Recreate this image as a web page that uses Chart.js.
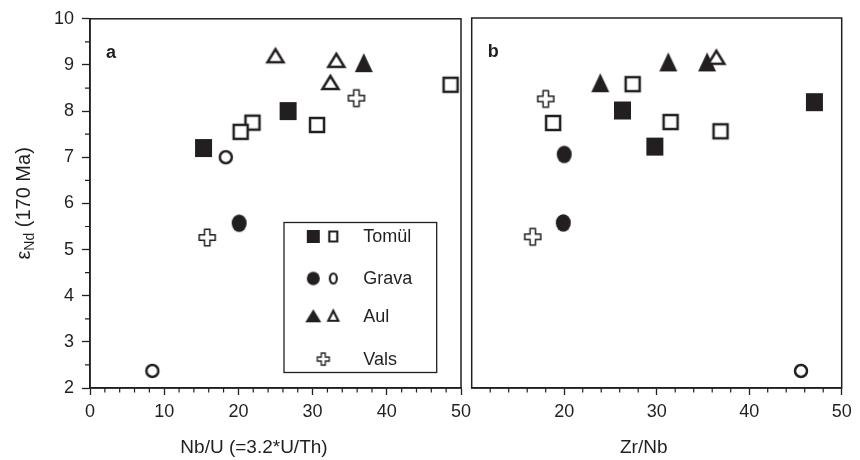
<!DOCTYPE html>
<html>
<head>
<meta charset="utf-8">
<script src="https://cdn.jsdelivr.net/npm/chart.js@4.4.1/dist/chart.umd.min.js"></script>
<style>
    html, body { margin: 0; padding: 0; background: #fff; }
    #wrap { position: relative; width: 860px; height: 460px; overflow: hidden; }
    #chartA { position: absolute; left: 0; top: 0; }
    #chartB { position: absolute; left: 456px; top: 0; }
</style>
</head>
<body>
<div id="wrap">
    <canvas id="chartA" width="480" height="460"></canvas>
    <canvas id="chartB" width="404" height="460"></canvas>
</div>
<script>
const FONT = '"Liberation Sans", Arial, Helvetica, sans-serif';
const INK = '#231f20';

// rock groups (legend order)
const groups = ['Tomül', 'Grava', 'Aul', 'Vals'];

// panel a: Nb/U vs eNd (170 Ma), [x, y]
const nbuTomulFilled = [[15.3, 7.2], [26.7, 8.0]];
const nbuTomulOpen = [[21.9, 7.75], [20.3, 7.55], [30.6, 7.7], [48.6, 8.57]];
const nbuGravaFilled = [[20.1, 5.57]];
const nbuGravaOpen = [[18.3, 7.0], [8.4, 2.37]];
const nbuAulFilled = [[36.9, 9.05]];
const nbuAulOpen = [[25.0, 9.2], [33.2, 9.1], [32.4, 8.62]];
const nbuVals = [[15.8, 5.26], [35.9, 8.28]];

// panel b: Zr/Nb vs eNd (170 Ma)
const zrnbTomulFilled = [[26.3, 8.0], [29.8, 7.22], [47.05, 8.18]];
const zrnbTomulOpen = [[18.8, 7.73], [27.4, 8.57], [31.5, 7.75], [36.9, 7.55]];
const zrnbGravaFilled = [[20.0, 7.05], [19.9, 5.57]];
const zrnbGravaOpen = [[45.6, 2.37]];
const zrnbAulFilled = [[23.9, 8.6], [31.25, 9.05], [35.45, 9.05]];
const zrnbAulOpen = [[36.45, 9.15]];
const zrnbVals = [[18.0, 8.25], [16.6, 5.27]];

// tick labels
const yTicks = [2, 3, 4, 5, 6, 7, 8, 9, 10];
const nbuTicks = [0, 10, 20, 30, 40, 50];
const zrnbTicks = [20, 30, 40, 50];

// draw one marker on its own small canvas, used as a pointStyle
function marker(shape, filled, w, h, lw) {
    const pad = Math.ceil(lw * 3) + 1;
    const W = Math.ceil(w) + pad * 2, H = Math.ceil(h) + pad * 2;
    const c = document.createElement('canvas');
    c.width = W; c.height = H;
    const g = c.getContext('2d');
    g.translate((W - w) / 2, (H - h) / 2);
    g.beginPath();
    if (shape === 'square') {
        g.rect(0, 0, w, h);
    } else if (shape === 'circle') {
        g.ellipse(w / 2, h / 2, w / 2, h / 2, 0, 0, Math.PI * 2);
    } else if (shape === 'triangle') {
        g.moveTo(w / 2, 0); g.lineTo(w, h); g.lineTo(0, h); g.closePath();
    } else if (shape === 'plus') {
        const a = w / 3, b = h / 3;
        g.moveTo(a, 0); g.lineTo(2 * a, 0); g.lineTo(2 * a, b); g.lineTo(w, b);
        g.lineTo(w, 2 * b); g.lineTo(2 * a, 2 * b); g.lineTo(2 * a, h); g.lineTo(a, h);
        g.lineTo(a, 2 * b); g.lineTo(0, 2 * b); g.lineTo(0, b); g.lineTo(a, b);
        g.closePath();
    }
    g.fillStyle = filled ? INK : '#fff';
    g.fill();
    if (lw > 0) {
        g.lineWidth = lw;
        g.strokeStyle = INK;
        g.stroke();
    }
    return c;
}

const M = {
    sqF: marker('square', true, 17, 18, 0),
    sqO: marker('square', false, 14, 14, 2.5),
    ciF: marker('circle', true, 15, 17.5, 0),
    ciO: marker('circle', false, 12, 12, 2.5),
    trF: marker('triangle', true, 18, 19, 0),
    trO: marker('triangle', false, 16, 13, 2.5),
    plus: marker('plus', false, 16, 16.5, 1.5),
    // smaller ones for the legend box
    lSqF: marker('square', true, 13, 13, 0),
    lSqO: marker('square', false, 8, 10, 2.2),
    lCiF: marker('circle', true, 13, 13.5, 0),
    lCiO: marker('circle', false, 7, 10, 2.2),
    lTrF: marker('triangle', true, 16, 13, 0),
    lTrO: marker('triangle', false, 10, 10, 2.2),
    lPlus: marker('plus', false, 12, 12, 1.3)
};

function pts(arr) {
    return arr.map(p => ({ x: p[0], y: p[1] }));
}

// open symbols get the lower order so they sit on top of the filled ones
function makeSets(tf, to, gf, go, af, ao, v) {
    const base = { showLine: false, pointRadius: 9, pointHoverRadius: 9 };
    return [
        { ...base, label: groups[0], data: pts(tf), pointStyle: M.sqF, order: 2 },
        { ...base, label: groups[0], data: pts(to), pointStyle: M.sqO, order: 1 },
        { ...base, label: groups[1], data: pts(gf), pointStyle: M.ciF, order: 2 },
        { ...base, label: groups[1], data: pts(go), pointStyle: M.ciO, order: 1 },
        { ...base, label: groups[2], data: pts(af), pointStyle: M.trF, order: 2 },
        { ...base, label: groups[2], data: pts(ao), pointStyle: M.trO, order: 1 },
        { ...base, label: groups[3], data: pts(v), pointStyle: M.plus, order: 1 }
    ];
}

// frame, minor ticks, panel letter, x title, y title and legend box
const panelPlugin = {
    id: 'panel',
    afterDraw(chart, args, o) {
        const { ctx, chartArea: a, scales } = chart;
        ctx.save();
        ctx.strokeStyle = INK;
        ctx.lineWidth = 1.5;
        ctx.strokeRect(a.left, a.top, a.right - a.left, a.bottom - a.top);

        // minor ticks
        ctx.lineWidth = 1.2;
        ctx.beginPath();
        for (let v = scales.x.min; v <= scales.x.max; v += 2) {
            if (v % 10 === 0) continue;
            const px = scales.x.getPixelForValue(v);
            ctx.moveTo(px, a.bottom);
            ctx.lineTo(px, a.bottom + 4.5);
        }
        if (o.yAxis) {
            for (let v = scales.y.min; v <= scales.y.max; v += 0.5) {
                if (v % 1 === 0) continue;
                const py = scales.y.getPixelForValue(v);
                ctx.moveTo(a.left, py);
                ctx.lineTo(a.left - 5, py);
            }
        }
        ctx.stroke();

        ctx.fillStyle = INK;
        ctx.textBaseline = 'alphabetic';
        ctx.textAlign = 'left';
        ctx.font = 'bold 18px ' + FONT;
        ctx.fillText(o.letter, a.left + 16, a.top + 39);

        ctx.font = '19px ' + FONT;
        ctx.textAlign = 'center';
        ctx.fillText(o.xTitle, a.left + o.xTitleShift, 453);

        if (o.yAxis) {
            // eNd (170 Ma), with Nd as a subscript
            ctx.save();
            ctx.translate(30, (a.top + a.bottom) / 2);
            ctx.rotate(-Math.PI / 2);
            ctx.textAlign = 'left';
            ctx.font = '20px ' + FONT;
            const e = 'ε', rest = ' (170 Ma)';
            const we = ctx.measureText(e).width, wr = ctx.measureText(rest).width;
            ctx.font = '14px ' + FONT;
            const ws = ctx.measureText('Nd').width;
            let x = -(we + ws + wr) / 2;
            ctx.font = '20px ' + FONT;
            ctx.fillText(e, x, 0);
            x += we;
            ctx.font = '14px ' + FONT;
            ctx.fillText('Nd', x, 4);
            x += ws;
            ctx.font = '20px ' + FONT;
            ctx.fillText(rest, x, 0);
            ctx.restore();
        }

        if (o.legend) {
            const bx = a.left + 194, by = a.top + 203.7, bw = 152.7, bh = 150;
            ctx.fillStyle = '#fff';
            ctx.fillRect(bx, by, bw, bh);
            ctx.lineWidth = 1.3;
            ctx.strokeRect(bx, by, bw, bh);
            const rows = [
                { marks: [M.lSqF, M.lSqO], dy: 14 },
                { marks: [M.lCiF, M.lCiO], dy: 56 },
                { marks: [M.lTrF, M.lTrO], dy: 93.3 },
                { marks: [M.lPlus], dy: 136.6 }
            ];
            ctx.font = '18px ' + FONT;
            ctx.textAlign = 'left';
            ctx.textBaseline = 'middle';
            ctx.fillStyle = INK;
            rows.forEach((r, i) => {
                const cy = by + r.dy;
                const xs = r.marks.length === 2 ? [29.3, 49.3] : [39.3];
                r.marks.forEach((m, j) => {
                    ctx.drawImage(m, bx + xs[j] - m.width / 2, cy - m.height / 2);
                });
                ctx.fillText(groups[i], bx + 79.3, cy + 1);
            });
        }
        ctx.restore();
    }
};

function tickFont() {
    return { family: FONT, size: 18 };
}

function makeChart(id, datasets, xMin, xTickVals, showY, padding, panelOpts) {
    return new Chart(document.getElementById(id), {
        type: 'scatter',
        data: { datasets },
        plugins: [panelPlugin],
        options: {
            responsive: false,
            animation: false,
            events: [],
            layout: { padding },
            plugins: {
                legend: { display: false },
                tooltip: { enabled: false },
                panel: panelOpts
            },
            scales: {
                x: {
                    type: 'linear',
                    min: xMin,
                    max: 50,
                    afterBuildTicks: s => { s.ticks = xTickVals.map(v => ({ value: v })); },
                    ticks: { color: INK, font: tickFont(), padding: 6, maxRotation: 0, autoSkip: false },
                    grid: { drawOnChartArea: false, tickLength: 7, color: INK, tickWidth: 1.3 },
                    border: { color: INK, width: 1.5 },
                    afterFit: s => { s.height = 72; }
                },
                y: {
                    type: 'linear',
                    display: showY,
                    min: 2,
                    max: 10,
                    afterBuildTicks: s => { s.ticks = yTicks.map(v => ({ value: v })); },
                    ticks: { color: INK, font: tickFont(), padding: 8 },
                    grid: { drawOnChartArea: false, tickLength: 8, color: INK, tickWidth: 1.3 },
                    border: { color: INK, width: 1.5 },
                    afterFit: s => { s.width = showY ? 90 : 0; }
                }
            }
        }
    });
}

makeChart('chartA',
    makeSets(nbuTomulFilled, nbuTomulOpen, nbuGravaFilled, nbuGravaOpen, nbuAulFilled, nbuAulOpen, nbuVals),
    0, nbuTicks, true,
    { left: 0, right: 19, top: 18, bottom: 0 },
    { letter: 'a', xTitle: 'Nb/U (=3.2*U/Th)', xTitleShift: 164, yAxis: true, legend: true });

makeChart('chartB',
    makeSets(zrnbTomulFilled, zrnbTomulOpen, zrnbGravaFilled, zrnbGravaOpen, zrnbAulFilled, zrnbAulOpen, zrnbVals),
    10, zrnbTicks, false,
    { left: 15.7, right: 18.3, top: 18, bottom: 0 },
    { letter: 'b', xTitle: 'Zr/Nb', xTitleShift: 172, yAxis: false, legend: false });
</script>
</body>
</html>
